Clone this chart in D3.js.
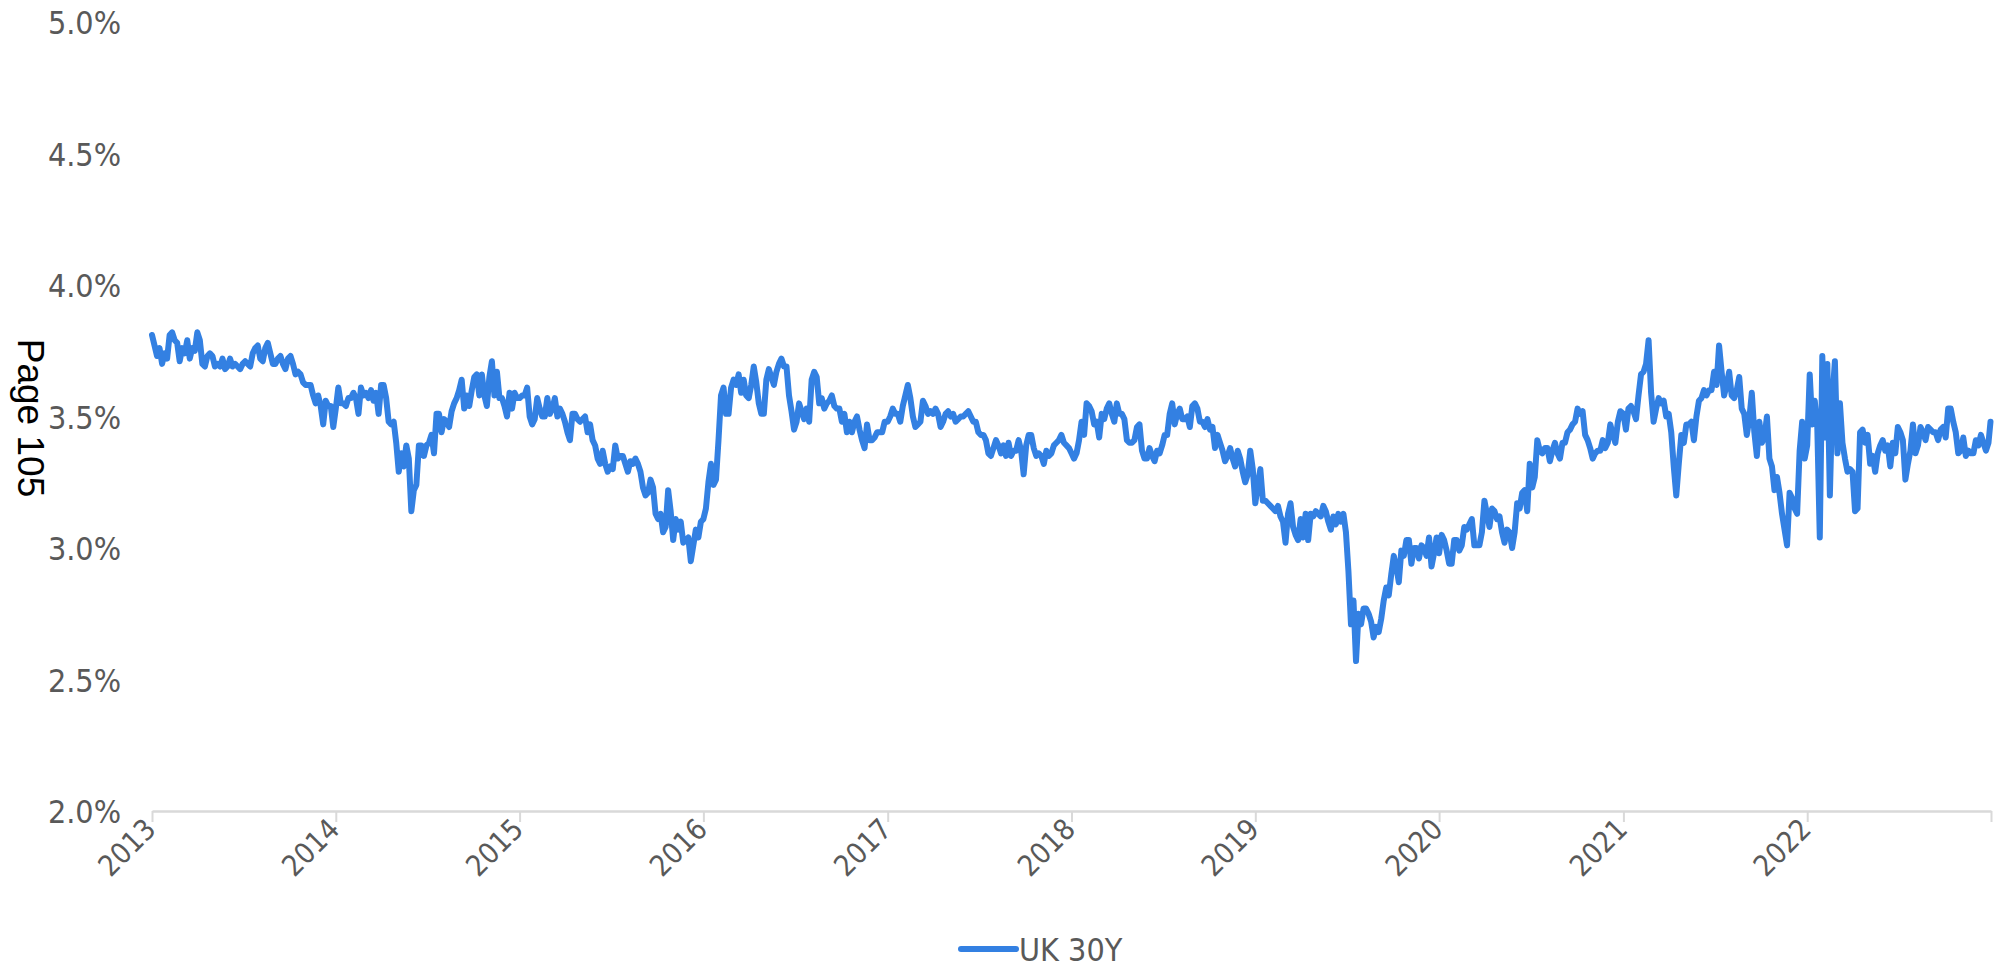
<!DOCTYPE html>
<html>
<head>
<meta charset="utf-8">
<script src="https://cdn.jsdelivr.net/npm/d3@7"></script>
<style>
  html, body { margin: 0; padding: 0; background: #ffffff; }
  svg { display: block; }
  .lbl { font-family: "DejaVu Sans Condensed", "DejaVu Sans", sans-serif; font-stretch: condensed; fill: #595959; }
</style>
</head>
<body>
<svg id="chart" width="2001" height="970"></svg>
<script>
// Axis labels
const yearLabels = ["2013", "2014", "2015", "2016", "2017", "2018", "2019", "2020", "2021", "2022"];
const yTicks = [2.0, 2.5, 3.0, 3.5, 4.0, 4.5, 5.0];
const seriesName = "UK 30Y";
const sideNote = "Page 105";

// UK 30Y yield (%), one reading every 5 days within each calendar year
const y2013 = [3.81,3.77,3.73,3.76,3.70,3.74,3.72,3.81,3.82,3.79,
  3.78,3.71,3.76,3.74,3.79,3.72,3.76,3.75,3.82,3.79,
  3.70,3.69,3.73,3.74,3.73,3.69,3.70,3.69,3.72,3.68,
  3.69,3.72,3.69,3.70,3.69,3.68,3.70,3.71,3.70,3.69,
  3.74,3.76,3.77,3.72,3.71,3.76,3.78,3.74,3.70,3.70,
  3.72,3.73,3.70,3.68,3.72,3.73,3.70,3.66,3.67,3.66,
  3.63,3.62,3.62,3.62,3.58,3.55,3.58,3.54,3.47,3.56,
  3.54,3.54,3.46];
const y2014 = [3.53,3.61,3.55,3.55,3.54,3.57,3.57,3.59,3.57,3.51,
  3.61,3.58,3.59,3.57,3.60,3.56,3.59,3.51,3.62,3.62,
  3.57,3.48,3.47,3.48,3.40,3.29,3.36,3.31,3.39,3.34,
  3.14,3.22,3.24,3.39,3.39,3.35,3.39,3.40,3.43,3.36,
  3.51,3.51,3.44,3.49,3.48,3.46,3.52,3.55,3.57,3.60,
  3.64,3.53,3.58,3.54,3.60,3.65,3.66,3.58,3.66,3.58,
  3.54,3.65,3.71,3.58,3.67,3.57,3.57,3.54,3.50,3.59,
  3.53,3.59,3.57];
const y2015 = [3.57,3.58,3.58,3.61,3.50,3.47,3.49,3.57,3.53,3.50,
  3.50,3.57,3.51,3.53,3.57,3.50,3.53,3.51,3.48,3.44,
  3.41,3.51,3.51,3.49,3.48,3.49,3.50,3.44,3.47,3.41,
  3.39,3.34,3.32,3.37,3.32,3.29,3.31,3.30,3.39,3.34,
  3.35,3.35,3.32,3.29,3.33,3.32,3.34,3.32,3.29,3.23,
  3.20,3.21,3.26,3.23,3.13,3.11,3.13,3.06,3.08,3.22,
  3.14,3.03,3.11,3.07,3.10,3.02,3.03,3.04,2.95,3.01,
  3.07,3.04,3.10];
const y2016 = [3.11,3.15,3.25,3.32,3.24,3.26,3.41,3.58,3.61,3.51,
  3.51,3.61,3.64,3.62,3.66,3.59,3.64,3.58,3.57,3.62,
  3.69,3.63,3.55,3.51,3.51,3.64,3.68,3.65,3.62,3.67,
  3.70,3.72,3.69,3.69,3.58,3.52,3.45,3.48,3.55,3.52,
  3.49,3.53,3.48,3.64,3.67,3.65,3.55,3.57,3.53,3.55,
  3.56,3.58,3.54,3.53,3.53,3.48,3.51,3.44,3.48,3.44,
  3.48,3.50,3.45,3.41,3.38,3.47,3.41,3.41,3.42,3.44,
  3.44,3.44,3.48];
const y2017 = [3.48,3.50,3.53,3.51,3.51,3.48,3.54,3.58,3.62,3.57,
  3.50,3.46,3.47,3.48,3.56,3.54,3.51,3.52,3.51,3.53,
  3.51,3.46,3.48,3.51,3.52,3.50,3.51,3.48,3.49,3.50,
  3.50,3.51,3.52,3.50,3.48,3.48,3.44,3.43,3.43,3.41,
  3.36,3.35,3.38,3.41,3.39,3.36,3.39,3.35,3.40,3.35,
  3.37,3.37,3.41,3.37,3.28,3.39,3.43,3.43,3.38,3.35,
  3.36,3.35,3.32,3.37,3.35,3.36,3.39,3.40,3.41,3.43,
  3.40,3.39,3.38];
const y2018 = [3.36,3.34,3.36,3.41,3.48,3.43,3.55,3.54,3.52,3.47,
  3.48,3.42,3.51,3.49,3.53,3.55,3.51,3.48,3.55,3.51,
  3.51,3.49,3.41,3.40,3.40,3.41,3.46,3.47,3.37,3.34,
  3.34,3.38,3.35,3.33,3.37,3.36,3.39,3.43,3.43,3.51,
  3.55,3.47,3.51,3.53,3.49,3.49,3.50,3.46,3.54,3.55,
  3.53,3.48,3.48,3.46,3.49,3.45,3.46,3.38,3.43,3.40,
  3.37,3.33,3.35,3.38,3.34,3.31,3.37,3.34,3.29,3.25,
  3.28,3.37,3.30];
const y2019 = [3.17,3.24,3.30,3.18,3.18,3.17,3.16,3.15,3.14,3.16,
  3.12,3.10,3.02,3.13,3.17,3.08,3.05,3.03,3.11,3.04,
  3.13,3.03,3.13,3.12,3.14,3.13,3.12,3.16,3.14,3.10,
  3.07,3.12,3.09,3.13,3.10,3.13,3.06,2.91,2.71,2.80,
  2.57,2.75,2.71,2.77,2.77,2.75,2.72,2.66,2.70,2.68,
  2.73,2.80,2.85,2.82,2.90,2.97,2.93,2.87,2.99,2.97,
  3.03,3.03,2.94,3.00,3.00,2.96,3.01,3.00,2.97,3.04,
  2.93,2.98,3.04];
const y2020 = [2.98,3.05,3.03,2.99,2.94,2.94,3.03,3.03,2.99,3.01,
  3.08,3.07,3.09,3.11,3.01,3.01,3.01,3.06,3.18,3.13,
  3.08,3.15,3.14,3.11,3.12,3.06,3.02,3.07,3.06,3.00,
  3.06,3.17,3.15,3.21,3.22,3.14,3.32,3.23,3.27,3.41,
  3.37,3.36,3.38,3.38,3.33,3.37,3.40,3.36,3.34,3.40,
  3.40,3.44,3.45,3.47,3.48,3.53,3.51,3.52,3.43,3.41,
  3.38,3.34,3.36,3.37,3.37,3.41,3.38,3.40,3.47,3.43,
  3.40,3.48,3.52];
const y2021 = [3.51,3.45,3.53,3.54,3.52,3.49,3.58,3.66,3.67,3.70,
  3.79,3.59,3.48,3.53,3.57,3.55,3.56,3.50,3.51,3.44,
  3.31,3.20,3.32,3.43,3.40,3.47,3.47,3.48,3.41,3.50,
  3.56,3.57,3.60,3.58,3.60,3.60,3.67,3.62,3.77,3.67,
  3.58,3.62,3.67,3.58,3.57,3.60,3.65,3.53,3.51,3.43,
  3.49,3.59,3.44,3.35,3.48,3.40,3.42,3.50,3.34,3.31,
  3.22,3.27,3.21,3.13,3.07,3.01,3.21,3.19,3.15,3.13,
  3.37,3.48,3.34];
const y2022 = [3.39,3.66,3.47,3.56,3.46,3.04,3.73,3.42,3.70,3.20,
  3.57,3.71,3.36,3.55,3.40,3.34,3.29,3.30,3.29,3.14,
  3.15,3.44,3.45,3.40,3.43,3.32,3.35,3.29,3.36,3.39,
  3.41,3.37,3.39,3.31,3.40,3.36,3.46,3.44,3.41,3.26,
  3.32,3.37,3.47,3.36,3.39,3.46,3.44,3.41,3.46,3.45,
  3.44,3.44,3.41,3.45,3.46,3.42,3.53,3.53,3.48,3.44,
  3.36,3.37,3.42,3.35,3.37,3.36,3.36,3.41,3.39,3.43,
  3.40,3.37,3.40,3.48];

const yearly = [
  [2013, y2013], [2014, y2014], [2015, y2015], [2016, y2016], [2017, y2017],
  [2018, y2018], [2019, y2019], [2020, y2020], [2021, y2021], [2022, y2022]
];

const points = yearly.flatMap(([yr, vals]) =>
  vals.map((v, i) => ({ date: new Date(Date.UTC(yr, 0, 1 + Math.min(i * 5, 364))), value: v }))
);

const svg = d3.select("#chart");
const lineColor = "#3380e2";
const textGrey = "#595959";

const x = d3.scaleUtc()
  .domain([new Date(Date.UTC(2013, 0, 1)), new Date(Date.UTC(2023, 0, 1))])
  .range([152, 1991]);

const y = d3.scaleLinear()
  .domain([2.0, 5.0])
  .range([811, 22]);

// Y axis: labels only
const yAxis = svg.append("g")
  .attr("transform", "translate(121,0)")
  .call(d3.axisLeft(y).tickValues(yTicks).tickSize(0).tickPadding(0)
    .tickFormat(d => d.toFixed(1) + "%"));
yAxis.select(".domain").remove();
yAxis.selectAll("text")
  .attr("class", "lbl")
  .attr("x", 0)
  .attr("dy", "0.36em")
  .style("font-size", "32px")
  .attr("fill", textGrey);

// X axis: yearly ticks, last boundary unlabeled
const tickDates = d3.range(2013, 2024).map(yr => new Date(Date.UTC(yr, 0, 1)));
const xAxis = svg.append("g")
  .attr("transform", "translate(0,811)")
  .call(d3.axisBottom(x).tickValues(tickDates).tickSize(11).tickSizeOuter(0)
    .tickFormat(d => {
      const s = String(d.getUTCFullYear());
      return yearLabels.includes(s) ? s : "";
    }));
xAxis.select(".domain").attr("stroke", "#d9d9d9").attr("stroke-width", 2.5);
xAxis.selectAll(".tick line").attr("stroke", "#d9d9d9").attr("stroke-width", 2);
xAxis.selectAll(".tick text")
  .attr("class", "lbl")
  .attr("fill", textGrey)
  .style("font-size", "29px")
  .attr("text-anchor", "end")
  .attr("x", 0)
  .attr("y", 0)
  .attr("dy", 0)
  .attr("transform", "translate(5,20) rotate(-45)");

// Series line
const line = d3.line()
  .x(d => x(d.date))
  .y(d => y(d.value));

svg.append("path")
  .datum(points)
  .attr("d", line)
  .attr("fill", "none")
  .attr("stroke", lineColor)
  .attr("stroke-width", 6)
  .attr("stroke-linejoin", "round")
  .attr("stroke-linecap", "round");

// Legend
const legend = svg.append("g").attr("transform", "translate(961,949)");
legend.append("line")
  .attr("x1", 0).attr("x2", 55).attr("y1", 0).attr("y2", 0)
  .attr("stroke", lineColor).attr("stroke-width", 6).attr("stroke-linecap", "round");
legend.append("text")
  .attr("class", "lbl")
  .attr("x", 58)
  .attr("dy", "0.36em")
  .style("font-size", "32px")
  .attr("fill", textGrey)
  .text(seriesName);

// Rotated side note
svg.append("text")
  .attr("transform", "translate(18,418) rotate(90)")
  .attr("text-anchor", "middle")
  .style("font-family", "'Liberation Sans', Arial, sans-serif")
  .style("font-size", "37px")
  .attr("fill", "#000000")
  .text(sideNote);
</script>
</body>
</html>
